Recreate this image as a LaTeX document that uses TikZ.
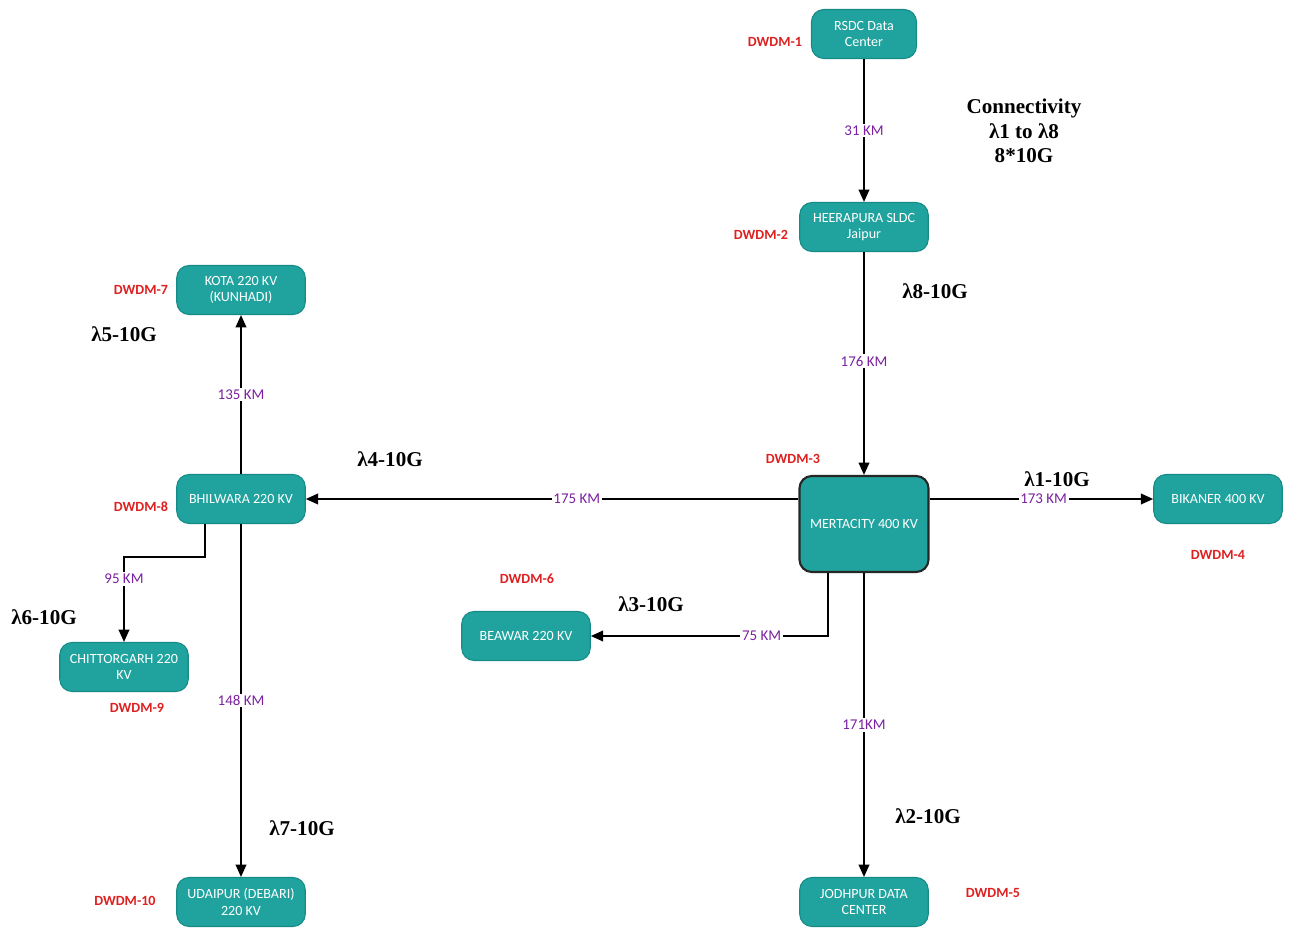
\documentclass[tikz,border=0pt]{standalone}
\usepackage{fontspec}
\setmainfont{Liberation Serif}
\newfontfamily\boxfont{Carlito}
\usetikzlibrary{positioning,arrows.meta}
\definecolor{tealfill}{RGB}{32,163,158}
\definecolor{tealedge}{RGB}{22,138,134}
\definecolor{kmpurple}{RGB}{122,32,160}
\definecolor{dwdmred}{RGB}{222,32,32}

\begin{document}
\begin{tikzpicture}[x=0.2mm, y=-0.2mm,
      >={Triangle[length=7pt,width=6pt]},
      stn/.style={draw=tealedge, fill=tealfill, rounded corners=7pt, align=center, text=white, font=\boxfont\fontsize{8}{9.5}\selectfont, minimum width=25.7mm, minimum height=9.8mm, inner sep=1pt, line width=0.6pt},
      hub/.style={stn, draw=black!85, line width=1.2pt, minimum width=25.8mm, minimum height=19.2mm},
      ar/.style={->, line width=1.1pt},
      km/.style={font=\boxfont\fontsize{8.5}{10}\selectfont, text=kmpurple, fill=white, inner sep=1pt},
      dw/.style={font=\boxfont\bfseries\fontsize{8}{10}\selectfont, text=dwdmred},
      lam/.style={font=\bfseries\fontsize{12}{14}\selectfont, align=center}
    ]
    \useasboundingbox (0,0) rectangle (1290,929);

    % ===== stations =====
    \node[stn, minimum width=21mm] (rsdc) at (864,34)  {RSDC Data\\Center};
    \node[stn] (heer) at (864,227) {HEERAPURA SLDC\\Jaipur};
    \node[hub] (mert) at (864,524) {MERTACITY 400 KV};
    \node[stn] (bik)  at (1218,499) {BIKANER 400 KV};
    \node[stn] (jodh) at (864,902) {JODHPUR DATA\\CENTER};
    \node[stn] (beaw) at (526,636) {BEAWAR 220 KV};
    \node[stn] (bhil) at (241,499) {BHILWARA 220 KV};
    \node[stn] (kota) at (241,290) {KOTA 220 KV\\(KUNHADI)};
    \node[stn] (chit) at (124,667) {CHITTORGARH 220\\KV};
    \node[stn] (udai) at (241,902) {UDAIPUR (DEBARI)\\220 KV};

    % ===== links =====
    \draw[ar] (rsdc) -- node[km]{31 KM} (heer);
    \draw[ar] (heer) -- node[km,pos=0.49]{176 KM} (mert);
    \draw[ar] (mert.east |- bik.west) -- node[km,pos=0.51]{173 KM} (bik);
    \draw[ar] (mert.west |- bhil.east) -- node[km,pos=0.45]{175 KM} (bhil);
    \draw[ar] ([xshift=-7.2mm]mert.south) |- node[km,pos=0.64]{75 KM} (beaw.east);
    \draw[ar] (mert) -- node[km]{171KM} (jodh);
    \draw[ar] (bhil) -- node[km]{135 KM} (kota);
    \draw[ar] ([xshift=-7.2mm]bhil.south) -- ++(0,33) -| node[km,pos=0.63]{95 KM} (chit.north);
    \draw[ar] (bhil) -- node[km]{148 KM} (udai);

    % ===== wavelengths =====
    \node[lam] (conn) at (1024,131) {Connectivity\\λ1 to λ8\\8*10G};
    \node[lam] (l8) at (935,291) {λ8-10G};
    \node[lam] (l5) at (124,334) {λ5-10G};
    \node[lam] (l4) at (390,459) {λ4-10G};
    \node[lam] (l1) at (1057,479) {λ1-10G};
    \node[lam] (l3) at (651,604) {λ3-10G};
    \node[lam] (l6) at (44,617)  {λ6-10G};
    \node[lam] (l7) at (302,828) {λ7-10G};
    \node[lam] (l2) at (928,816) {λ2-10G};

    % ===== DWDM tags =====
    \node[dw] (d1)  at (775,42)   {DWDM-1};
    \node[dw] (d2)  at (761,235)  {DWDM-2};
    \node[dw] (d3)  at (793,459)  {DWDM-3};
    \node[dw] (d4)  at (1218,555) {DWDM-4};
    \node[dw] (d5)  at (993,893)  {DWDM-5};
    \node[dw] (d6)  at (527,579)  {DWDM-6};
    \node[dw] (d7)  at (141,290)  {DWDM-7};
    \node[dw] (d8)  at (141,507)  {DWDM-8};
    \node[dw] (d9)  at (137,708)  {DWDM-9};
    \node[dw] (d10) at (125,901)  {DWDM-10};
    \end{tikzpicture}
\end{document}
